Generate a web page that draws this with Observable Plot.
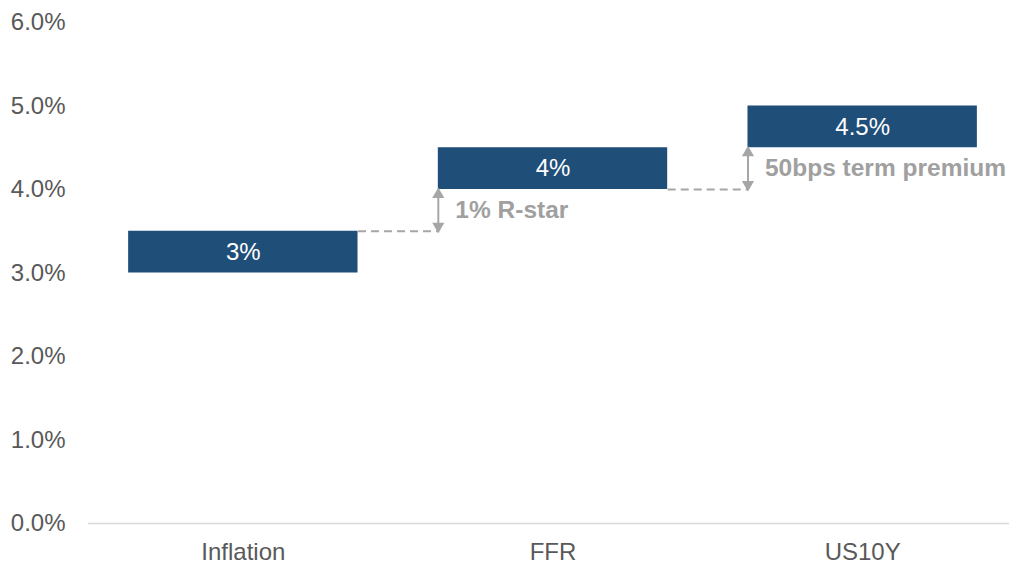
<!DOCTYPE html>
<html>
<head>
<meta charset="utf-8">
<script src="https://cdn.jsdelivr.net/npm/d3@7"></script>
<script src="https://cdn.jsdelivr.net/npm/@observablehq/plot@0.6"></script>
<style>
  html, body { margin: 0; padding: 0; background: #fff; }
  #chart svg { display: block; }
</style>
</head>
<body>
<div id="chart"></div>
<script>
// Floating bars: each rate sits on top of the previous one
const categories = ["Inflation", "FFR", "US10Y"];
const lows = [3.0, 4.0, 4.5];
const highs = [3.5, 4.5, 5.0];
const barLabels = ["3%", "4%", "4.5%"];
const yTicks = [0, 1, 2, 3, 4, 5, 6];

// Rises between consecutive bars and their annotations
const stepFrom = [3.5, 4.0];
const stepTo = [4.0, 4.5];
const stepLabels = ["1% R-star", "50bps term premium"];

const BLUE = "#1F4E79";
const GRAY = "#A6A6A6";
const TEXT = "#595959";
const FONT = "'Liberation Sans', Arial, sans-serif";
const half = 0.5 / 1.35; // bar half-width in category units (35% gap)

const bars = categories.map((c, i) => ({
  i, name: c, lo: lows[i], hi: highs[i], label: barLabels[i], mid: (lows[i] + highs[i]) / 2
}));

// dashed connector from one bar to the next bar's left edge, plus the arrow spanning the rise
const steps = stepLabels.map((label, k) => ({
  x1: k + half,
  x2: k + 1 - half,
  from: stepFrom[k],
  to: stepTo[k],
  mid: (stepFrom[k] + stepTo[k]) / 2,
  label
}));

const chart = Plot.plot({
  width: 1009,
  height: 568,
  marginTop: 22,
  marginBottom: 45,
  marginLeft: 88,
  marginRight: 0,
  style: { fontFamily: FONT, background: "#fff" },
  x: { type: "linear", domain: [-0.5, 2.5], range: [88, 1017] },
  y: { domain: [0, 6], range: [523, 22] },
  marks: [
    Plot.ruleY([0], { stroke: "#D9D9D9", strokeWidth: 1.5 }),
    Plot.axisY({
      ticks: yTicks, tickSize: 0, tickPadding: 23, fontSize: 24,
      tickFormat: d => d.toFixed(1) + "%", label: null, color: TEXT
    }),
    Plot.axisX({
      ticks: categories.map((_, i) => i), tickSize: 0, tickPadding: 19, fontSize: 24,
      tickFormat: i => categories[i], label: null, color: TEXT
    }),
    Plot.rect(bars, {
      x1: d => d.i - half, x2: d => d.i + half, y1: "lo", y2: "hi", fill: BLUE
    }),
    Plot.text(bars, {
      x: "i", y: "mid", text: "label", fill: "white", fontSize: 24
    }),
    Plot.link(steps, {
      x1: "x1", x2: "x2", y1: "from", y2: "from",
      stroke: GRAY, strokeWidth: 2, strokeDasharray: "8,5"
    }),
    // double-headed arrow: shaft plus two filled heads
    Plot.link(steps, {
      x1: "x2", x2: "x2", y1: "from", y2: "to",
      stroke: GRAY, strokeWidth: 2, insetTop: 0
    }),
    Plot.dot(steps, {
      x: "x2", y: "to", symbol: "triangle", r: 4.5, dy: 5,
      fill: GRAY, stroke: "none"
    }),
    Plot.dot(steps, {
      x: "x2", y: "from", symbol: "triangle", r: 4.5, dy: -5, rotate: 180,
      fill: GRAY, stroke: "none"
    }),
    Plot.text(steps, {
      x: "x2", y: "mid", text: "label", dx: 17, textAnchor: "start",
      fill: "#A0A0A0", fontSize: 24.5, fontWeight: "bold"
    })
  ]
});

document.getElementById("chart").append(chart);
</script>
</body>
</html>
